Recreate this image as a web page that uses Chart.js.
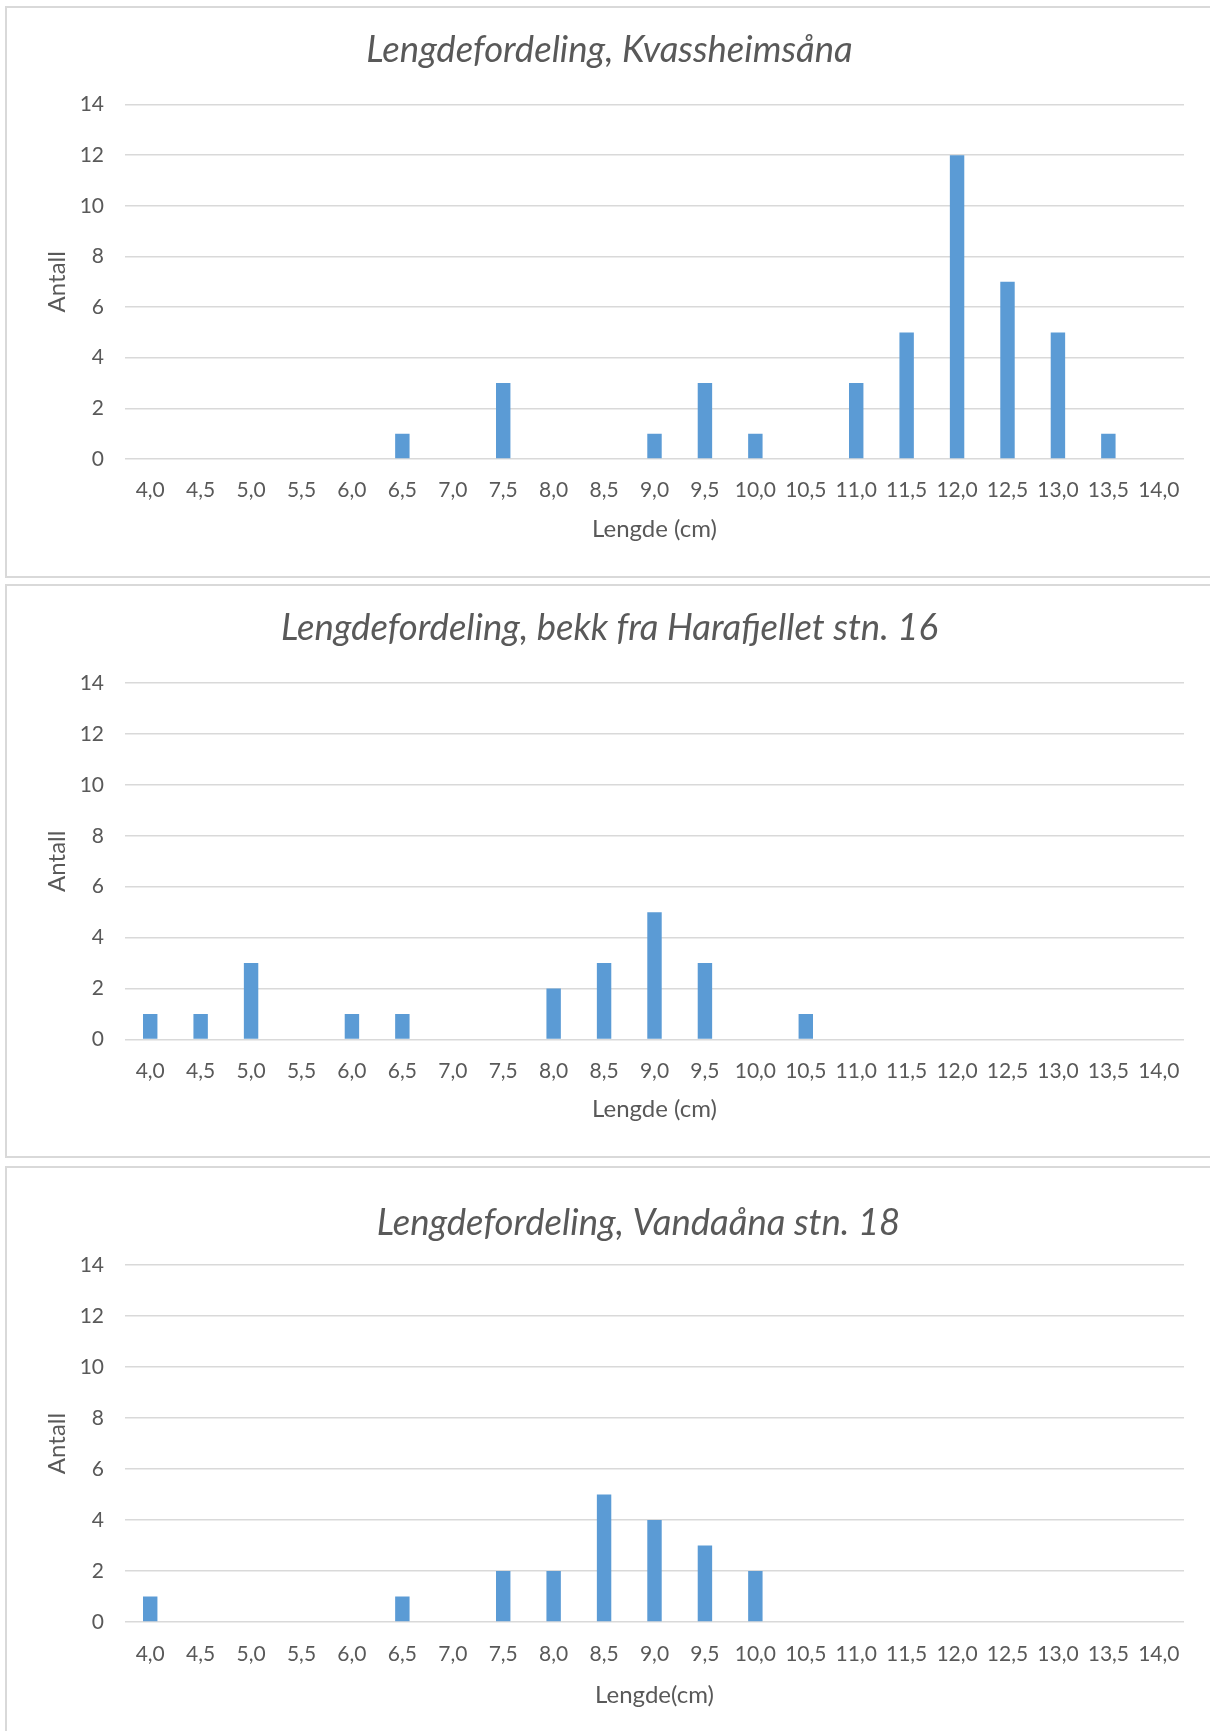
<!DOCTYPE html>
<html>
<head>
<meta charset="utf-8">
<script src="https://cdn.jsdelivr.net/npm/chart.js@4.4.1/dist/chart.umd.min.js"></script>
<style>
  body { margin: 0; background: #fff; width: 1210px; height: 1731px; overflow: hidden; position: relative; }
  .box { position: absolute; left: 5px; width: 1230px; border: 2px solid #d9d9d9; box-sizing: border-box; }
  canvas { position: absolute; left: 7px; }
</style>
</head>
<body>
<div class="box" style="top:6px;height:572px"></div>
<div class="box" style="top:584px;height:574px"></div>
<div class="box" style="top:1166px;height:600px"></div>
<canvas id="c1" width="1203" height="568" style="top:8px"></canvas>
<canvas id="c2" width="1203" height="570" style="top:586px"></canvas>
<canvas id="c3" width="1203" height="563" style="top:1168px"></canvas>

<script>
// lengdeklasser (cm)
const lengths = ['4,0', '4,5', '5,0', '5,5', '6,0', '6,5', '7,0', '7,5', '8,0', '8,5', '9,0',
                 '9,5', '10,0', '10,5', '11,0', '11,5', '12,0', '12,5', '13,0', '13,5', '14,0'];

// antall fisk per lengdeklasse
const kvassheimsaana = [0, 0, 0, 0, 0, 1, 0, 3, 0, 0, 1, 3, 1, 0, 3, 5, 12, 7, 5, 1, 0];
const harafjellet16  = [1, 1, 3, 0, 1, 1, 0, 0, 2, 3, 5, 3, 0, 1, 0, 0, 0, 0, 0, 0, 0];
const vandaaana18    = [1, 0, 0, 0, 0, 1, 0, 2, 2, 5, 4, 3, 2, 0, 0, 0, 0, 0, 0, 0, 0];

const yTicks = [0, 2, 4, 6, 8, 10, 12, 14];

const textColor = '#595959';
const barColor = '#5B9BD5';
const titleSize = 36.5;

Chart.defaults.font.family = 'Lato, "Open Sans", sans-serif';

// flytter tittelen litt sidelengs, slik som i Excel-figuren
const titleShift = {
    id: 'titleShift',
    afterLayout(chart, args, opts) {
        const t = chart.titleBlock;
        if (t && opts.dx) {
            t.left += opts.dx;
            t.right += opts.dx;
        }
    }
};

function drawChart(id, title, xTitle, values, g) {
    return new Chart(document.getElementById(id), {
        type: 'bar',
        plugins: [titleShift],
        data: {
            labels: lengths,
            datasets: [{
                data: values,
                backgroundColor: barColor,
                borderWidth: 0,
                barPercentage: 0.286,
                categoryPercentage: 1
            }]
        },
        options: {
            responsive: false,
            animation: false,
            layout: { padding: { left: 0, right: 26, top: 0, bottom: 0 } },
            plugins: {
                legend: { display: false },
                tooltip: { enabled: false },
                titleShift: { dx: g.titleDx },
                title: {
                    display: true,
                    text: title,
                    color: textColor,
                    font: { size: titleSize, style: 'italic', weight: 'normal', lineHeight: 1 },
                    padding: { top: g.titleY - titleSize / 2, bottom: g.plotTop - g.titleY - titleSize / 2 }
                }
            },
            scales: {
                x: {
                    grid: { display: false },
                    border: { display: false },
                    ticks: {
                        color: textColor,
                        font: { size: 21 },
                        padding: g.tickY - g.plotBottom - 20,
                        autoSkip: false,
                        maxRotation: 0,
                        minRotation: 0
                    },
                    title: {
                        display: true,
                        text: xTitle,
                        color: textColor,
                        font: { size: 24, lineHeight: 1 },
                        padding: { top: 0, bottom: g.height - g.xTitleY - 12 }
                    },
                    afterFit(s) { s.height = g.height - g.plotBottom; }
                },
                y: {
                    min: 0,
                    max: 14,
                    afterBuildTicks(s) { s.ticks = yTicks.map(v => ({ value: v })); },
                    ticks: { color: textColor, font: { size: 21 }, padding: 21 },
                    grid: { color: '#d9d9d9', lineWidth: 1.5, drawTicks: false },
                    border: { display: false },
                    title: {
                        display: true,
                        text: 'Antall',
                        color: textColor,
                        font: { size: 24, lineHeight: 1 },
                        padding: { top: 38, bottom: 0 }
                    },
                    afterFit(s) { s.width = 118; }
                }
            }
        }
    });
}

drawChart('c1', 'Lengdefordeling, Kvassheimsåna', 'Lengde (cm)', kvassheimsaana,
    { titleY: 42, titleDx: 14, plotTop: 96.5, plotBottom: 451, tickY: 482, xTitleY: 521, height: 568 });
drawChart('c2', 'Lengdefordeling, bekk fra Harafjellet stn. 16', 'Lengde (cm)', harafjellet16,
    { titleY: 42, titleDx: 14, plotTop: 97, plotBottom: 453.5, tickY: 485, xTitleY: 523, height: 570 });
drawChart('c3', 'Lengdefordeling, Vandaåna stn. 18', 'Lengde(cm)', vandaaana18,
    { titleY: 55, titleDx: 43, plotTop: 97, plotBottom: 454, tickY: 486, xTitleY: 527, height: 563 });
</script>
</body>
</html>
